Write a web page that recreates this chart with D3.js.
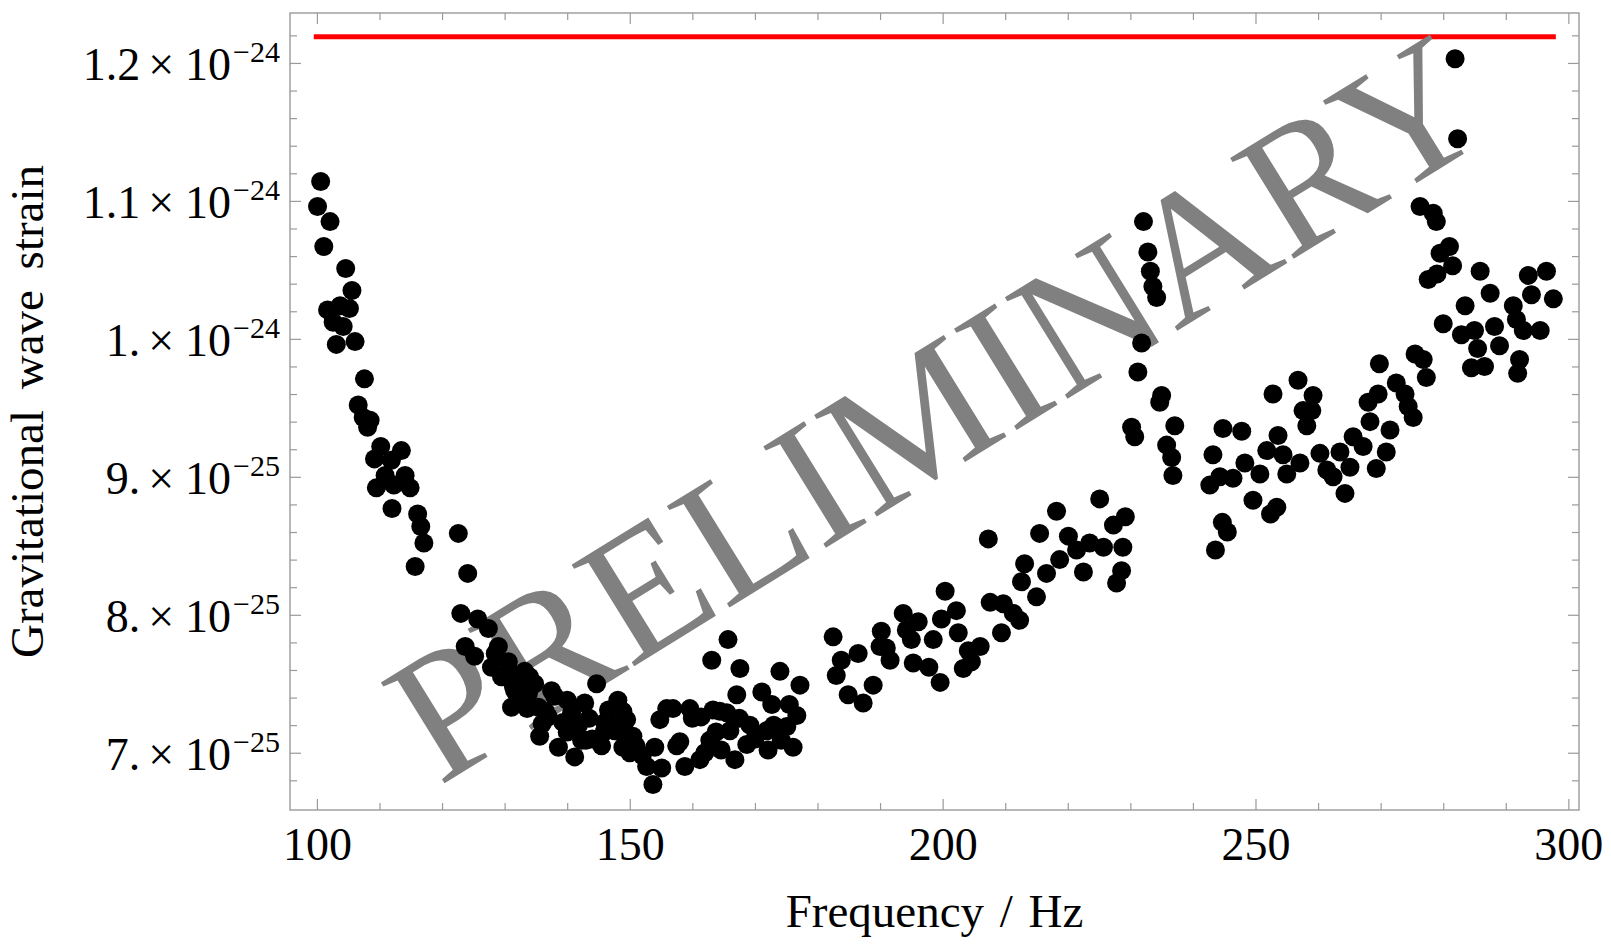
<!DOCTYPE html>
<html>
<head>
<meta charset="utf-8">
<script src="https://cdn.jsdelivr.net/npm/d3@7"></script>
<style>
  body { margin: 0; background: #fff; }
  text { font-family: "Liberation Serif", "Times New Roman", serif; }
</style>
</head>
<body>
<div id="chart"></div>
<script>
// frequency (Hz) of each point
const freq = [
  100.1, 100.6, 101.1, 101.7, 102.1, 102.6, 103.1, 103.7, 104.2, 104.6,
  105.2, 105.6, 106.1, 106.6, 107.4, 107.6, 108.1, 108.5, 109.2, 109.5,
  110.2, 110.9, 111.9, 112.3, 112.0, 113.5, 114.1, 114.9, 115.7, 116.1,
  116.6, 117.1, 122.6, 123.0, 123.7, 124.1, 125.2, 125.7, 127.4, 127.9,
  128.5, 129.0, 129.5, 130.6, 131.0, 131.1, 131.6, 132.0, 132.5, 133.2,
  133.8, 134.0, 134.8, 135.4, 135.6, 136.5, 137.0, 137.5, 138.0, 138.6,
  139.3, 140.0, 140.7, 141.2, 141.8, 142.8, 143.0, 143.5, 144.0, 144.7,
  145.5, 146.0, 146.6, 147.2, 147.6, 148.1, 148.9, 148.9, 149.0, 149.5,
  150.0, 150.5, 151.0, 152.0, 152.7, 153.7, 154.0, 154.8, 155.1, 155.9,
  156.9, 157.5, 158.0, 158.8, 159.6, 160.0, 161.2, 161.4, 162.0, 162.8,
  163.1, 163.3, 163.8, 164.4, 164.6, 165.5, 165.7, 166.0, 166.8, 167.1,
  167.5, 167.6, 168.7, 169.2, 170.0, 171.1, 171.9, 172.1, 172.7, 173.0,
  174.0, 174.2, 175.1, 175.5, 176.1, 176.7, 177.2,
  131.4, 133.6, 136.0, 140.0, 142.3, 145.9,
  182.5, 183.0, 183.8, 184.9, 186.5, 187.3, 188.9, 190.0, 190.2, 191.0,
  191.6, 193.7, 194.2, 195.0, 195.3, 196.1, 197.8, 198.5, 199.6, 199.8,
  200.4, 202.2, 202.5, 203.3, 204.1, 204.6, 206.0, 207.3, 207.6, 209.4,
  209.7, 211.3, 212.3, 212.6, 213.1, 215.0, 215.5, 216.6, 218.2, 218.7,
  220.1, 221.4, 222.5, 223.5, 225.1, 225.7, 227.3, 227.8, 228.6, 228.8,
  229.2, 230.2, 230.7, 231.2, 231.8, 232.1, 232.8, 233.2, 233.6, 234.2,
  234.7, 235.0, 235.8, 236.6, 236.8, 237.1,
  242.7, 243.2, 243.6, 244.3, 244.7, 244.8, 245.5, 246.4, 247.8, 248.3,
  249.6, 250.7, 251.8, 252.4, 252.8, 253.4, 253.6, 254.4, 255.0, 256.8,
  257.1, 257.6, 258.2, 259.0, 259.2, 260.3, 261.4, 262.4, 263.5, 264.3,
  265.1, 265.6, 267.2, 268.0, 268.3, 269.3, 269.6, 269.8, 270.9, 271.5,
  272.5, 273.9, 274.4, 275.2, 275.5, 276.3, 276.8, 277.3, 277.6, 278.4,
  278.9, 279.0, 279.5, 280.0, 281.0, 281.5, 281.9, 282.3, 282.9, 283.5,
  284.5, 285.0, 285.5, 285.9, 286.6, 287.5, 288.2, 289.0, 291.2, 291.7,
  291.9, 292.2, 292.8, 293.6, 294.1, 295.5, 296.5, 297.6
];

// strain of each point, in units of 1e-25
const strain = [
  10.96, 11.14, 10.67, 10.21, 10.85, 10.12, 9.96, 10.24, 10.09, 10.51,
  10.22, 10.35, 9.98, 9.52, 9.43, 9.71, 9.36, 9.41, 9.13, 8.92,
  9.22, 9.01, 9.12, 8.94, 8.77, 9.19, 9.01, 8.92, 8.35, 8.73,
  8.64, 8.52, 8.59, 8.01, 7.77, 8.30, 7.70, 7.97, 7.90, 7.62,
  7.72, 7.77, 7.55, 7.66, 7.58, 7.33, 7.45, 7.52, 7.40, 7.59,
  7.43, 7.55, 7.50, 7.33, 7.12, 7.30, 7.26, 7.45, 7.41, 7.04,
  7.22, 7.38, 7.29, 6.97, 7.20, 7.36, 7.09, 7.25, 7.10, 7.50,
  7.05, 7.22, 7.31, 7.20, 7.16, 7.38, 7.30, 7.04, 7.15, 7.24,
  7.00, 7.12, 7.05, 6.98, 6.90, 6.77, 7.04, 7.24, 6.89, 7.32,
  7.32, 7.05, 7.08, 6.90, 7.32, 7.25, 6.95, 7.26, 7.00, 7.09,
  7.67, 7.31, 7.15, 7.30, 7.02, 7.29, 7.82, 7.16, 6.95, 7.42,
  7.25, 7.61, 7.06, 7.20, 7.10, 7.44, 7.16, 7.02, 7.35, 7.20,
  7.59, 7.09, 7.19, 7.35, 7.04, 7.27, 7.49,
  7.48, 7.32, 7.21, 7.15, 7.09, 7.15,
  7.84, 7.56, 7.67, 7.42, 7.72, 7.36, 7.49, 7.77, 7.88, 7.76,
  7.67, 8.01, 7.89, 7.82, 7.65, 7.95, 7.62, 7.82, 7.51, 7.97,
  8.17, 8.03, 7.87, 7.61, 7.74, 7.66, 7.77, 8.55, 8.09, 7.87,
  8.08, 8.01, 7.96, 8.24, 8.37, 8.13, 8.59, 8.30, 8.75, 8.40,
  8.57, 8.47, 8.31, 8.52, 8.84, 8.49, 8.65, 8.23, 8.32, 8.49,
  8.71, 9.36, 9.29, 9.76, 9.97, 10.85, 10.63, 10.49, 10.38, 10.30,
  9.54, 9.59, 9.23, 9.14, 9.01, 9.37,
  8.94, 9.16, 8.47, 9.00, 8.67, 9.35, 8.60, 8.99, 9.33, 9.10,
  8.83, 9.02, 9.19, 8.73, 9.60, 8.78, 9.30, 9.16, 9.02, 9.70,
  9.10, 9.48, 9.37, 9.48, 9.59, 9.17, 9.05, 9.00, 9.18, 8.88,
  9.07, 9.29, 9.22, 9.54, 9.40, 9.06, 9.60, 9.82, 9.18, 9.34,
  9.68, 9.60, 9.51, 9.43, 9.89, 10.96, 9.85, 9.72, 10.43, 10.91,
  10.85, 10.47, 10.62, 10.11, 10.67, 10.53, 12.03, 11.45, 10.03, 10.24,
  9.79, 10.06, 9.93, 10.49, 9.80, 10.33, 10.09, 9.95, 10.24, 10.14,
  9.75, 9.85, 10.06, 10.46, 10.32, 10.06, 10.49, 10.29
];

// red limit line (units of 1e-25) and its frequency span
const limitValue = 12.19;
const limitFreq = [99.5, 298];

const xTicks = [100, 150, 200, 250, 300];
const xMinorTicks = [110, 120, 130, 140, 160, 170, 180, 190, 210, 220, 230, 240, 260, 270, 280, 290];
const yTicks = [7, 8, 9, 10, 11, 12];
const yMinorTicks = [6.8, 7.2, 7.4, 7.6, 7.8, 8.2, 8.4, 8.6, 8.8, 9.2, 9.4, 9.6, 9.8,
                     10.2, 10.4, 10.6, 10.8, 11.2, 11.4, 11.6, 11.8, 12.2];
const yTickMantissa = ["7.", "8.", "9.", "1.", "1.1", "1.2"];
const yTickExponent = ["\u221225", "\u221225", "\u221225", "\u221224", "\u221224", "\u221224"];

const margin = {top: 13, right: 32, bottom: 135, left: 290};
const width = 1611 - margin.left - margin.right,
      height = 945 - margin.top - margin.bottom;
const frameColor = "#9a9a9a";

const x = d3.scaleLinear().domain([95.7, 301.7]).range([0, width]);
const y = d3.scaleLinear().domain([6.585, 12.362]).range([height, 0]);

const svg = d3.select("#chart").append("svg")
    .attr("width", width + margin.left + margin.right)
    .attr("height", height + margin.top + margin.bottom)
    .style("background", "#fff")
  .append("g")
    .attr("transform", "translate(" + margin.left + "," + margin.top + ")");

// ticks pointing inward on all four sides
function tickAxis(axis, tx, ty) {
  const g = svg.append("g")
      .attr("transform", "translate(" + tx + "," + ty + ")")
      .call(axis);
  g.select(".domain").remove();
  g.selectAll("line").attr("stroke", frameColor).attr("stroke-width", 1.2);
  return g;
}
tickAxis(d3.axisBottom(x).tickValues(xMinorTicks).tickSize(-7).tickFormat(""), 0, height);
tickAxis(d3.axisTop(x).tickValues(xMinorTicks).tickSize(-7).tickFormat(""), 0, 0);
tickAxis(d3.axisTop(x).tickValues(xTicks).tickSize(-11).tickFormat(""), 0, 0);
tickAxis(d3.axisLeft(y).tickValues(yMinorTicks).tickSize(-7).tickFormat(""), 0, 0);
tickAxis(d3.axisRight(y).tickValues(yMinorTicks).tickSize(-7).tickFormat(""), width, 0);
tickAxis(d3.axisRight(y).tickValues(yTicks).tickSize(-11).tickFormat(""), width, 0);

const xAxis = tickAxis(d3.axisBottom(x).tickValues(xTicks).tickSize(-11).tickPadding(0)
    .tickFormat(d3.format("d")), 0, height);
xAxis.selectAll("text")
    .attr("y", 50).attr("dy", null)
    .attr("fill", "#000")
    .style("font-size", "46px");

const yAxis = tickAxis(d3.axisLeft(y).tickValues(yTicks).tickSize(-11).tickFormat(""), 0, 0);
yAxis.selectAll(".tick").each(function(d, i) {
  const t = d3.select(this).append("text")
      .attr("x", -10).attr("y", 17)
      .attr("text-anchor", "end")
      .attr("fill", "#000")
      .style("font-size", "46px");
  t.append("tspan").text(yTickMantissa[i]);
  t.append("tspan").attr("dx", 8).text("\u00d7");
  t.append("tspan").attr("dx", 11).text("10");
  t.append("tspan").attr("dx", 2).attr("dy", -18).style("font-size", "30px").text(yTickExponent[i]);
});

// frame
svg.append("rect")
    .attr("width", width).attr("height", height)
    .attr("fill", "none")
    .attr("stroke", frameColor)
    .attr("stroke-width", 1.4);

// upper limit line
svg.append("line")
    .attr("x1", x(limitFreq[0])).attr("x2", x(limitFreq[1]))
    .attr("y1", y(limitValue)).attr("y2", y(limitValue))
    .attr("stroke", "#ff0000")
    .attr("stroke-width", 5);

// watermark
svg.append("text")
    .attr("transform", "translate(" + x(204.0) + "," + y(9.12) + ") rotate(-31.7)")
    .attr("text-anchor", "middle")
    .attr("textLength", 1243)
    .attr("lengthAdjust", "spacingAndGlyphs")
    .attr("fill", "#808080")
    .style("font-size", "182px")
    .text("PRELIMINARY");

// points
svg.selectAll(".dot")
    .data(freq.map((f, i) => ({f: f, v: strain[i]})))
  .enter().append("circle")
    .attr("class", "dot")
    .attr("cx", d => x(d.f))
    .attr("cy", d => y(d.v))
    .attr("r", 9.5)
    .attr("fill", "#000");

// axis titles
svg.append("text")
    .attr("x", width / 2)
    .attr("y", height + 117)
    .attr("text-anchor", "middle")
    .style("font-size", "47px")
    .style("word-spacing", "4px")
    .text("Frequency / Hz");

svg.append("text")
    .attr("transform", "translate(" + (43 - margin.left) + "," + (height / 2) + ") rotate(-90)")
    .attr("text-anchor", "middle")
    .style("font-size", "47px")
    .style("word-spacing", "9px")
    .text("Gravitational wave strain");
</script>
</body>
</html>
